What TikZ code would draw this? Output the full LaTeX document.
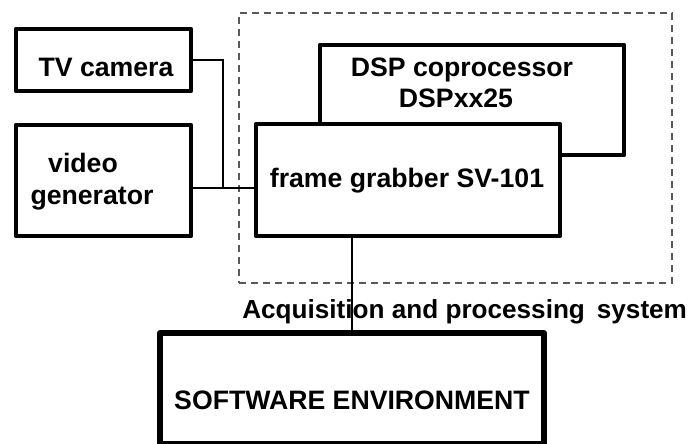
\documentclass[tikz,border=0pt]{standalone}
\usepackage{fontspec}
\setmainfont{Liberation Sans}
\begin{document}
\begin{tikzpicture}[x=0.75pt,y=-0.75pt,
  blk/.style={draw=black,line width=3.2pt,fill=white,rectangle,inner sep=0pt,line join=round},
  lbl/.style={font=\fontsize{20}{24}\selectfont\bfseries,inner sep=0pt,anchor=base},
  wire/.style={draw=black,line width=1.6pt},
  sysbox/.style={draw=black!65,line width=0.8pt,dash pattern=on 5.5pt off 3.5pt}]
\useasboundingbox (0,0) rectangle (696,443);
\clip (0,0) rectangle (696,443);
% system boundary
\node[sysbox,rectangle,inner sep=0pt,minimum width=324.75pt,minimum height=202.5pt] (sys) at (455.5,148) {};
% blocks
\node[blk,minimum width=131.25pt,minimum height=46.5pt] (tv) at (103.5,60) {};
\node[blk,minimum width=131.25pt,minimum height=83.25pt] (vid) at (103.5,180.5) {};
\node[blk,minimum width=228pt,minimum height=82.5pt] (dsp) at (472,100) {};
\node[blk,minimum width=228pt,minimum height=84pt] (fg) at (408,180) {};
% connectors
\coordinate (j) at (223,188);
\coordinate (v) at (352,0);
\draw[wire] (tv.east) -| (j);
\draw[wire] (j -| vid.east) -- (j -| fg.west);
\draw[wire] (v |- fg.south) -- (v |- 0,333);
\node[blk,line width=4.5pt,minimum width=288pt,minimum height=83.25pt] (sw) at (352,388.5) {};
% texts
\node[lbl] (ttv) at (106,76) {TV camera};
\node[lbl] (tvid1) at (83,172) {video};
\node[lbl] (tvid2) at (92,204) {generator};
\node[lbl] (tfg) at (407,187) {frame grabber SV-101};
\node[lbl] (tdsp1) at (462,76) {DSP coprocessor};
\node[lbl] (tdsp2) at (456,107) {DSPxx25};
\node[lbl] (tsw) at (352,409) {SOFTWARE ENVIRONMENT};
\node[lbl,font=\fontsize{19.6}{24}\selectfont\bfseries,anchor=base west] (tsys) at (242,318) {Acquisition and processing\ \hspace{0.18em}system};
\end{tikzpicture}
\end{document}
